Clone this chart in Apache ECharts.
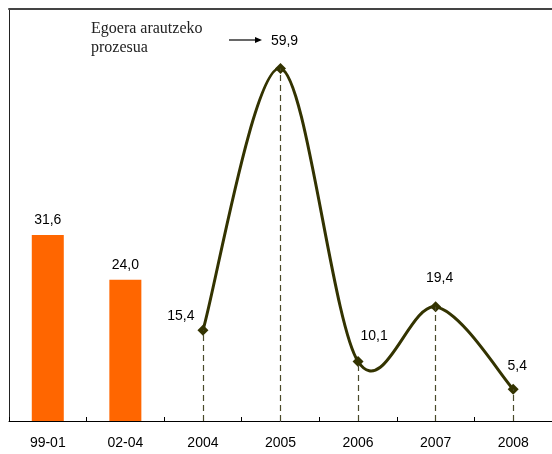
<!DOCTYPE html>
<html><head><meta charset="utf-8">
<script src="https://cdn.jsdelivr.net/npm/echarts@6/dist/echarts.min.js"></script>
<style>html,body{margin:0;padding:0;background:#fff}#c{width:552px;height:454px}</style>
</head><body><div id="c"></div>
<script>
const categories = ['99-01','02-04','2004','2005','2006','2007','2008'];
const barValues = [31.6, 24.0, null, null, null, null, null];
const lineValues = [null, null, 15.4, 59.9, 10.1, 19.4, 5.4];
const annotation = ['Egoera arautzeko', 'prozesua'];

const fmt = v => v.toFixed(1).replace('.', ',');
const FONT = 'Liberation Sans, Arial, sans-serif';
const lineLabelPos = {
  2: {position: 'left', offset: [2, -14]},
  3: {position: 'top', offset: [4, -10]},
  4: {position: 'top', offset: [16, -8]},
  5: {position: 'top', offset: [4, -11]},
  6: {position: 'top', offset: [4, -6]}
};
const linePoints = lineValues.map((v, i) => v == null ? null : [i, v]).filter(Boolean);

function renderCurve(params, api) {
  if (params.dataIndex !== 0) return null;
  const P = linePoints.map(p => api.coord(p));
  let d = 'M' + P[0][0] + ' ' + P[0][1];
  for (let k = 0; k < P.length - 1; k++) {
    const p0 = P[Math.max(k - 1, 0)], p1 = P[k], p2 = P[k + 1], p3 = P[Math.min(k + 2, P.length - 1)];
    const c1 = [p1[0] + (p2[0] - p0[0]) / 6, p1[1] + (p2[1] - p0[1]) / 6];
    const c2 = [p2[0] - (p3[0] - p1[0]) / 6, p2[1] - (p3[1] - p1[1]) / 6];
    d += ' C' + c1.join(' ') + ' ' + c2.join(' ') + ' ' + p2.join(' ');
  }
  return {type: 'path', shape: {pathData: d}, style: {stroke: '#333300', lineWidth: 3, fill: 'none'}};
}

const chart = echarts.init(document.getElementById('c'));
chart.setOption({
  animation: false,
  grid: {left: 9, right: 0, top: 9, bottom: 33},
  xAxis: [{
    type: 'category', data: categories, position: 'bottom',
    axisLine: {lineStyle: {color: '#000', width: 1}},
    axisTick: {show: true, inside: true, interval: 0, length: 4, lineStyle: {color: '#000'}},
    axisLabel: {color: '#000', fontSize: 14, fontFamily: FONT, margin: 15}
  }, {
    type: 'category', data: categories, position: 'top',
    axisLine: {lineStyle: {color: '#444', width: 2}},
    axisTick: {show: false}, axisLabel: {show: false}
  }],
  yAxis: {
    type: 'value', min: 0, max: 70,
    axisLine: {show: true, lineStyle: {color: '#222', width: 1}},
    axisTick: {show: false}, axisLabel: {show: false}, splitLine: {show: false}
  },
  series: [{
    type: 'bar', data: barValues, barWidth: 32,
    itemStyle: {color: '#ff6600'},
    label: {show: true, position: 'top', distance: 8, color: '#000', fontSize: 14, fontFamily: FONT,
      formatter: p => fmt(p.value)}
  }, {
    type: 'custom', data: linePoints, encode: {x: 0, y: 1},
    renderItem: renderCurve, z: 3, silent: true
  }, {
    type: 'line', data: lineValues.map((v, i) => v == null ? null : {
      value: v,
      label: Object.assign({show: true}, lineLabelPos[i] || {position: 'top'})
    }),
    symbol: 'diamond', symbolSize: 11, z: 4,
    lineStyle: {opacity: 0},
    itemStyle: {color: '#333300'},
    label: {color: '#000', fontSize: 14, fontFamily: FONT, formatter: p => fmt(p.value)},
    markLine: {
      silent: true, symbol: 'none',
      lineStyle: {color: '#4a4a2a', type: [6, 4], width: 1.2},
      label: {show: false},
      data: linePoints.map(p => [{coord: [p[0], 0]}, {coord: [p[0], p[1]]}])
    }
  }],
  graphic: [{
    type: 'text', left: 91, top: 19,
    style: {text: annotation.join('\n'), font: '16px "Liberation Serif", "DejaVu Serif", serif', fill: '#222', lineHeight: 19}
  }, {
    type: 'line', shape: {x1: 229, y1: 40, x2: 258, y2: 40}, style: {stroke: '#000', lineWidth: 1.2}
  }, {
    type: 'polygon', shape: {points: [[262, 40], [255, 37], [255, 43]]}, style: {fill: '#000'}
  }]
});
</script></body></html>
